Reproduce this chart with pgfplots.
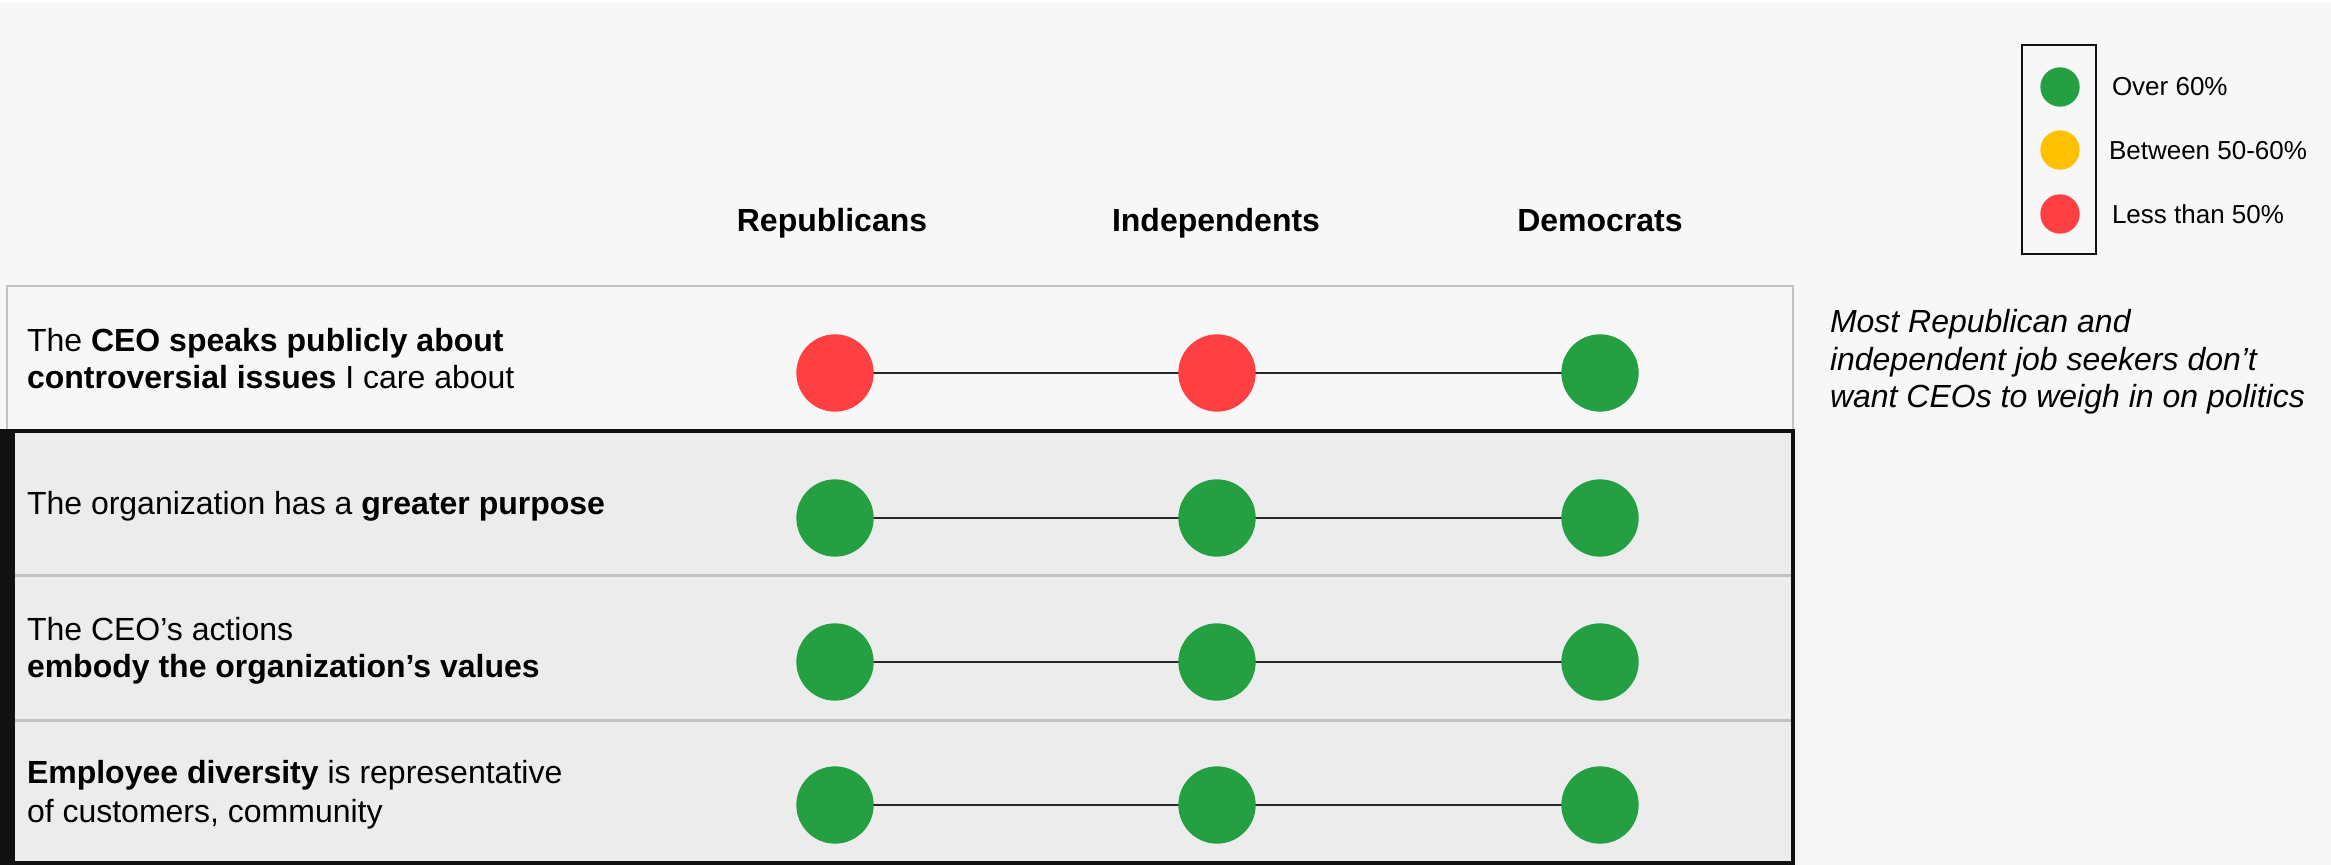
\documentclass[border=0pt]{standalone}
\usepackage{pgfplots}
\usepackage{pgfplotstable}
\pgfplotsset{compat=1.18}
\usepackage{fontspec}
\setmainfont{Liberation Sans}

\definecolor{bgc}{HTML}{F7F7F7}
\definecolor{rowc}{HTML}{ECECEC}
\definecolor{sepc}{HTML}{C2C2C2}
\definecolor{gr}{HTML}{24A042}
\definecolor{rd}{HTML}{FF4042}
\definecolor{yl}{HTML}{FFC000}
\definecolor{frame}{HTML}{111111}

\newcommand\fA{\fontsize{9.6pt}{11pt}\selectfont}
\newcommand\fL{\fontsize{7.8pt}{9pt}\selectfont}
\tikzset{lab/.style={inner sep=0pt, outer sep=0pt}}

% columns: Republicans (835), Independents (1217), Democrats (1600); cls: g = over 60%, y = 50-60%, r = less than 50%
\pgfplotstableread{
x y c
835 373 r
1217 373 r
1600 373 g
}\rowA
\pgfplotstableread{
x y c
835 518 g
1217 518 g
1600 518 g
}\rowB
\pgfplotstableread{
x y c
835 662 g
1217 662 g
1600 662 g
}\rowC
\pgfplotstableread{
x y c
835 805 g
1217 805 g
1600 805 g
}\rowD
\pgfplotstableread{
x y c
2060 87 g
2060 150 y
2060 214 r
}\legtab

\begin{document}
\begin{tikzpicture}
\begin{axis}[
  width=699.3pt, height=259.5pt, scale only axis,
  xmin=0, xmax=2331, ymin=0, ymax=865, y dir=reverse,
  hide axis, clip=false,
  dots/.style={scatter, only marks, point meta=explicit symbolic,
    scatter/classes={
      g={mark=*, mark size=11.4pt, draw=gr, fill=gr},
      y={mark=*, mark size=11.4pt, draw=yl, fill=yl},
      r={mark=*, mark size=11.4pt, draw=rd, fill=rd}}},
  ldots/.style={scatter, only marks, point meta=explicit symbolic,
    scatter/classes={
      g={mark=*, mark size=5.7pt, draw=gr, fill=gr},
      y={mark=*, mark size=5.7pt, draw=yl, fill=yl},
      r={mark=*, mark size=5.7pt, draw=rd, fill=rd}}},
  conn/.style={color=black!85, line width=0.6pt, no markers},
]
% background
\fill[bgc] (axis cs:0,0) rectangle (axis cs:2331,865);
\fill[white] (axis cs:0,0) rectangle (axis cs:2331,3);

% row 1 box
\draw[sepc, line width=0.6pt] (axis cs:7,286) rectangle (axis cs:1793,431);

% rows 2-4 block
\fill[rowc] (axis cs:0,431) rectangle (axis cs:1793,864);
\draw[black!8, line width=0.3pt] (axis cs:640,433) -- (axis cs:640,862);
\draw[sepc, line width=0.9pt] (axis cs:15,575) -- (axis cs:1791,575);
\draw[sepc, line width=0.9pt] (axis cs:15,720) -- (axis cs:1791,720);
\draw[frame, line width=1.2pt] (axis cs:2,431) rectangle (axis cs:1793,863);
\fill[frame] (axis cs:0,429) rectangle (axis cs:15,865);

% column headers
\node[lab, anchor=base] at (axis cs:832,232) {\fA\bfseries Republicans};
\node[lab, anchor=base] at (axis cs:1216,232) {\fA\bfseries Independents};
\node[lab, anchor=base] at (axis cs:1600,232) {\fA\bfseries Democrats};

% row labels
\node[lab, anchor=base west] at (axis cs:27,352) {\fA The \textbf{CEO speaks publicly about}};
\node[lab, anchor=base west] at (axis cs:27,389) {\fA \textbf{controversial issues} I care about};
\node[lab, anchor=base west] at (axis cs:27,515) {\fA The organization has a \textbf{greater purpose}};
\node[lab, anchor=base west] at (axis cs:27,640) {\fA The CEO’s actions};
\node[lab, anchor=base west] at (axis cs:27,677) {\fA \textbf{embody the organization’s values}};
\node[lab, anchor=base west] at (axis cs:27,783) {\fA \textbf{Employee diversity} is representative};
\node[lab, anchor=base west] at (axis cs:27,822) {\fA of customers, community};

% connecting lines
\addplot[conn] table[x=x, y=y] {\rowA};
\addplot[conn] table[x=x, y=y] {\rowB};
\addplot[conn] table[x=x, y=y] {\rowC};
\addplot[conn] table[x=x, y=y] {\rowD};
% dots
\addplot[dots] table[x=x, y=y, meta=c] {\rowA};
\addplot[dots] table[x=x, y=y, meta=c] {\rowB};
\addplot[dots] table[x=x, y=y, meta=c] {\rowC};
\addplot[dots] table[x=x, y=y, meta=c] {\rowD};

% legend
\draw[frame, line width=0.8pt] (axis cs:2022,45) rectangle (axis cs:2096,254);
\addplot[ldots] table[x=x, y=y, meta=c] {\legtab};
\node[lab, anchor=base west] at (axis cs:2112,96) {\fL Over 60\%};
\node[lab, anchor=base west] at (axis cs:2109,160) {\fL Between 50-60\%};
\node[lab, anchor=base west] at (axis cs:2112,224) {\fL Less than 50\%};

% note
\node[lab, anchor=base west] at (axis cs:1830,333) {\fA\itshape Most Republican and};
\node[lab, anchor=base west] at (axis cs:1830,370.5) {\fA\itshape independent job seekers don’t};
\node[lab, anchor=base west] at (axis cs:1830,408) {\fA\itshape want CEOs to weigh in on politics};
\end{axis}
\end{tikzpicture}
\end{document}
